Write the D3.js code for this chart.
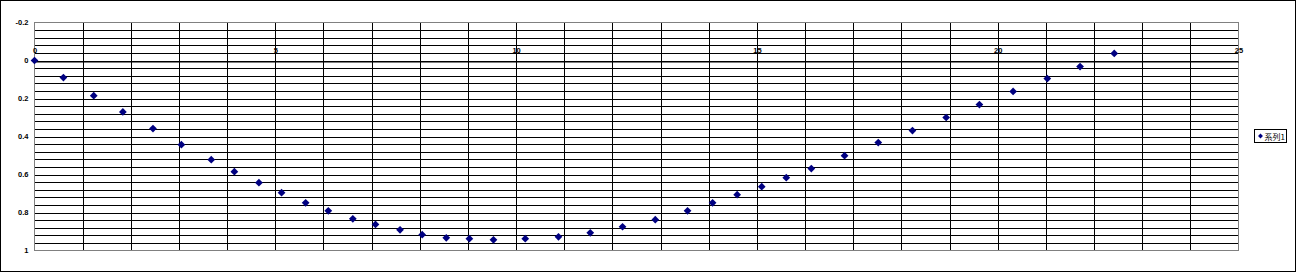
<!DOCTYPE html>
<html>
<head>
<meta charset="utf-8">
<script src="https://cdn.jsdelivr.net/npm/d3@7"></script>
<style>
  html, body { margin: 0; padding: 0; background: #fff; }
  text { font-family: "Liberation Sans", Arial, sans-serif; fill: #000; }
</style>
</head>
<body>
<div id="chart"></div>
<script>
(function () {
    const width = 1297, height = 273;

    // ── DATA ───────────────────────────────────────────────────────────────
    const seriesName = "系列1";
    const xValues = [0, 0.60, 1.23, 1.835, 2.46, 3.05, 3.67, 4.15, 4.66, 5.13,
                     5.63, 6.10, 6.61, 7.08, 7.59, 8.05, 8.55, 9.03, 9.53, 10.19,
                     10.88, 11.54, 12.21, 12.89, 13.56, 14.08, 14.59, 15.10, 15.61, 16.13,
                     16.82, 17.52, 18.23, 18.93, 19.62, 20.32, 21.03, 21.71, 22.42];
    const yValues = [0, 0.090, 0.185, 0.271, 0.358, 0.443, 0.522, 0.585, 0.643, 0.696,
                     0.749, 0.791, 0.833, 0.863, 0.891, 0.917, 0.933, 0.938, 0.944, 0.938,
                     0.928, 0.907, 0.875, 0.838, 0.791, 0.749, 0.706, 0.664, 0.617, 0.569,
                     0.501, 0.432, 0.369, 0.300, 0.232, 0.163, 0.095, 0.032, -0.037];
    const xTickLabels = [0, 5, 10, 15, 20, 25];
    const yTickLabels = [-0.2, 0, 0.2, 0.4, 0.6, 0.8, 1];

    const points = xValues.map((x, i) => ({ x, y: yValues[i] }));

    // ── SVG SETUP ──────────────────────────────────────────────────────────
    const svg = d3.select("#chart").append("svg")
        .attr("width", width)
        .attr("height", height);

    // chart outer border
    svg.append("rect")
        .attr("x", 0.5).attr("y", 0.5)
        .attr("width", 1295).attr("height", 271)
        .attr("fill", "#fff").attr("stroke", "#000");

    const plot = { left: 34.5, top: 22.5, right: 1238.5, bottom: 250.5 };

    const x = d3.scaleLinear().domain([0, 25]).range([plot.left, plot.right]);
    // reversed value axis: -0.2 on top, 1 at bottom
    const y = d3.scaleLinear().domain([-0.2, 1]).range([plot.top, plot.bottom]);

    // ── GRIDLINES ──────────────────────────────────────────────────────────
    const g = svg.append("g");

    g.selectAll(".vgrid")
        .data(d3.range(1, 25))
        .enter().append("line")
        .attr("x1", d => Math.round(x(d)) + 0.5).attr("x2", d => Math.round(x(d)) + 0.5)
        .attr("y1", plot.top).attr("y2", plot.bottom)
        .attr("stroke", "#000");

    g.selectAll(".hgrid")
        .data(d3.range(1, 30).map(i => -0.2 + i * 0.04))
        .enter().append("line")
        .attr("x1", plot.left).attr("x2", plot.right)
        .attr("y1", d => Math.round(y(d)) + 0.5).attr("y2", d => Math.round(y(d)) + 0.5)
        .attr("stroke", "#000");

    // plot area border
    g.append("rect")
        .attr("x", plot.left).attr("y", plot.top)
        .attr("width", plot.right - plot.left).attr("height", plot.bottom - plot.top)
        .attr("fill", "none").attr("stroke", "#808080");

    // ── AXES ───────────────────────────────────────────────────────────────
    const yAxis = d3.axisLeft(y)
        .tickValues(yTickLabels)
        .tickSize(0)
        .tickPadding(6)
        .tickFormat(d => d3.format("~g")(d).replace("−", "-"));
    svg.append("g")
        .attr("transform", `translate(${plot.left},0)`)
        .call(yAxis)
        .call(a => a.select(".domain").remove())
        .selectAll("text")
        .attr("font-size", 7.5)
        .attr("font-weight", "bold")
        .style("font-family", "'Liberation Sans', Arial, sans-serif");

    // x axis crosses at y = 0, labels sit above it
    const xAxis = d3.axisTop(x)
        .tickValues(xTickLabels)
        .tickSize(0)
        .tickPadding(9)
        .tickFormat(d3.format("d"));
    svg.append("g")
        .attr("transform", `translate(0,${Math.round(y(0)) + 0.5})`)
        .call(xAxis)
        .call(a => a.select(".domain").attr("stroke", "#000"))
        .selectAll("text")
        .attr("font-size", 7.5)
        .attr("font-weight", "bold")
        .style("font-family", "'Liberation Sans', Arial, sans-serif");

    // ── MARKERS ────────────────────────────────────────────────────────────
    const diamond = d3.symbol(d3.symbolSquare, 30);
    svg.append("g").selectAll("path")
        .data(points)
        .enter().append("path")
        .attr("d", diamond)
        .attr("transform", d => `translate(${x(d.x)},${y(d.y)}) rotate(45)`)
        .attr("fill", "#000080");

    // ── LEGEND ─────────────────────────────────────────────────────────────
    const legend = svg.append("g").attr("transform", "translate(1254.5,129.5)");
    legend.append("rect")
        .attr("width", 32).attr("height", 13)
        .attr("fill", "#fff").attr("stroke", "#000");
    legend.append("path")
        .attr("d", d3.symbol(d3.symbolSquare, 12))
        .attr("transform", "translate(6,6.5) rotate(45)")
        .attr("fill", "#000080");
    legend.append("text")
        .attr("x", 10).attr("y", 10)
        .attr("font-size", 8)
        .style("font-family", "'Noto Sans CJK JP', sans-serif")
        .text(seriesName);
})();
</script>
</body>
</html>
